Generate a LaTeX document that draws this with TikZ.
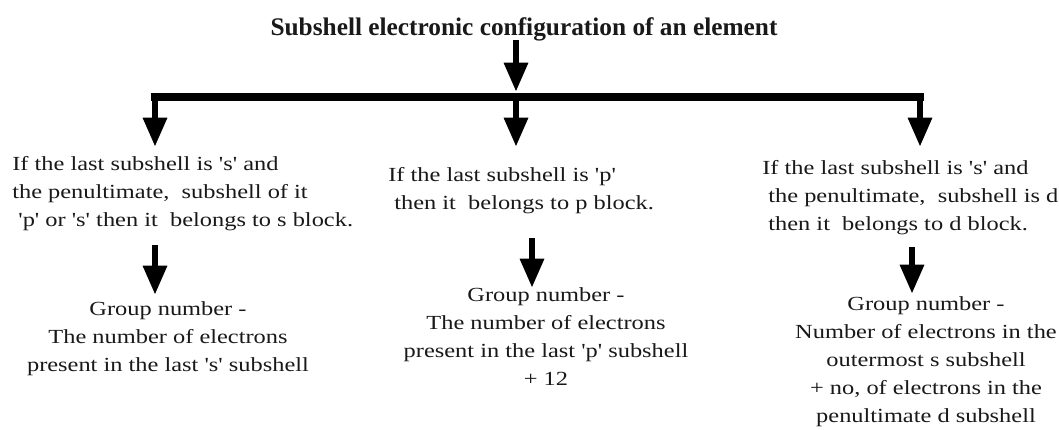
\documentclass[tikz,border=0pt]{standalone}
\usepackage{fontspec}
\setmainfont{Liberation Serif}[Ligatures=TeXOff]
\newfontfamily\bodyf{Liberation Serif}[FakeStretch=1.22,Ligatures=TeXOff]
\usetikzlibrary{arrows.meta}
\begin{document}
\begin{tikzpicture}[x=0.75pt,y=-0.75pt,
  txt/.style={inner sep=0pt, font=\bodyf\fontsize{15}{21}\selectfont, text=black!90},
  arr/.style={line width=5.2pt, -{Triangle[length=22pt,width=17pt]}},
  bar/.style={line width=5.6pt, line cap=rect}]
\useasboundingbox[fill=white] (0,0) rectangle (1059,429);
% title
\node[inner sep=0pt, anchor=base, font=\bfseries\fontsize{19}{22}\selectfont, text=black!90] (title) at (524,35) {Subshell electronic configuration of an element};
\coordinate (bl) at (155,97);
\coordinate (bm) at (516,97);
\coordinate (br) at (920,97);
\coordinate (tt) at (516,92);
\coordinate (ts) at (516,40);
\draw[arr] (ts) -- (tt);
\draw[bar] (bl) -- (br);
% second row (base anchor = baseline of last line)
\node[txt, anchor=base west, align=left] (s) at (12,226) {If the last subshell is 's' and\\the penultimate,\ \ subshell of it\\\ 'p' or 's' then it\ \ belongs to s block.};
\node[txt, anchor=base west, align=left] (p) at (388,209) {If the last subshell is 'p'\\\ then it\ \ belongs to p block.};
\node[txt, anchor=base west, align=left] (d) at (762,230) {If the last subshell is 's' and\\\ the penultimate,\ \ subshell is d\\\ then it\ \ belongs to d block.};
\coordinate (sa) at (155,147);
\coordinate (pa) at (516,147);
\coordinate (da) at (920,147);
\draw[arr] (bl) -- (sa);
\draw[arr] (bm) -- (pa);
\draw[arr] (br) -- (da);
% third row
\node[txt, anchor=base, align=center] (gs) at (168,371) {Group number -\\The number of electrons\\present in the last 's' subshell};
\node[txt, anchor=base, align=center] (gp) at (546,385) {Group number -\\The number of electrons\\present in the last 'p' subshell\\+ 12};
\node[txt, anchor=base, align=center] (gd) at (926,422) {Group number -\\Number of electrons in the\\outermost s subshell\\+ no, of electrons in the\\penultimate d subshell};
\coordinate (s1) at (155,245); \coordinate (s2) at (155,295);
\coordinate (p1) at (532,238); \coordinate (p2) at (532,288);
\coordinate (d1) at (912,247); \coordinate (d2) at (912,294);
\draw[arr] (s1) -- (s2);
\draw[arr] (p1) -- (p2);
\draw[arr] (d1) -- (d2);
\end{tikzpicture}
\end{document}
